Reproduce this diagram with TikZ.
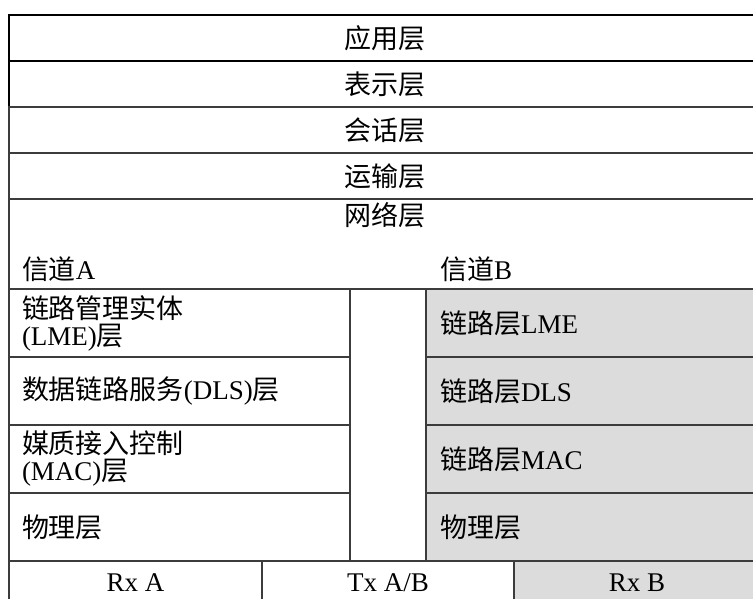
\documentclass[tikz,border=0pt]{standalone}
\usepackage{fontspec}
\setmainfont{Liberation Serif}
\newfontfamily\cjk{Noto Sans CJK SC}
\usetikzlibrary{positioning}
\definecolor{rule}{HTML}{3C3C3C}
\definecolor{shade}{HTML}{DCDCDC}
\newcommand\zh[1]{{\cjk #1}}

\begin{document}
\begin{tikzpicture}[
  x=1pt, y=-1pt,
  every node/.style={font=\fontsize{27}{27}\selectfont, outer sep=0pt},
  layer/.style={
    rectangle,
    draw=rule, line width=1.2pt,
    minimum width=751pt, minimum height=46pt,
    inner sep=0pt
  },
  toplayer/.style={layer, draw=black, line width=1.6pt},
  cellA/.style={
    rectangle, draw=rule, line width=1.2pt,
    minimum height=68pt, text width=315pt,
    inner xsep=13pt, inner ysep=0pt,
    align=left
  },
  cellB/.style={cellA, fill=shade, text width=306pt, inner xsep=14pt},
  port/.style={rectangle, draw=rule, line width=1.2pt, minimum height=44pt, inner sep=0pt}
]
\useasboundingbox (0,0) rectangle (753,599);

% upper layers
\node (app)   [toplayer, anchor=north west] at (9,15) {\zh{应用层}};
\node (pres)  [toplayer, below=0pt of app] {\zh{表示层}};
\node (sess)  [layer, below=0pt of pres] {\zh{会话层}};
\node (trans) [layer, below=0pt of sess] {\zh{运输层}};
\node (net)   [layer, below=0pt of trans, minimum height=90pt] {};
\node (netname) [below=3pt of net.north, inner sep=0pt] {\zh{网络层}};

% channel A
\node (lme) [cellA, below right=0pt of net.south west] {\zh{链路管理实体}\\(LME)\zh{层}};
\node (dls) [cellA, below=0pt of lme] {\zh{数据链路服务}(DLS)\zh{层}};
\node (mac) [cellA, below=0pt of dls] {\zh{媒质接入控制}\\(MAC)\zh{层}};
\node (phy) [cellA, below=0pt of mac] {\zh{物理层}};

% gap between the channels
\node (mid) [rectangle, draw=rule, line width=1.2pt, minimum width=76pt,
  minimum height=272pt, inner sep=0pt, below right=0pt of lme.north east] {};

% channel B
\node (lmeB) [cellB, below right=0pt of mid.north east] {\zh{链路层}LME};
\node (dlsB) [cellB, below=0pt of lmeB] {\zh{链路层}DLS};
\node (macB) [cellB, below=0pt of dlsB] {\zh{链路层}MAC};
\node (phyB) [cellB, below=0pt of macB] {\zh{物理层}};

\node (chA) [above right=7pt and 13pt of lme.north west, inner sep=0pt] {\zh{信道}A};
\node (chB) [above right=7pt and 14pt of lmeB.north west, inner sep=0pt] {\zh{信道}B};

% transceivers
\node (rxA)  [port, minimum width=253pt, below right=0pt of phy.south west] {Rx A};
\node (txAB) [port, minimum width=252pt, right=0pt of rxA] {Tx A/B};
\node (rxB)  [port, fill=shade, minimum width=246pt, right=0pt of txAB] {Rx B};
\end{tikzpicture}
\end{document}
